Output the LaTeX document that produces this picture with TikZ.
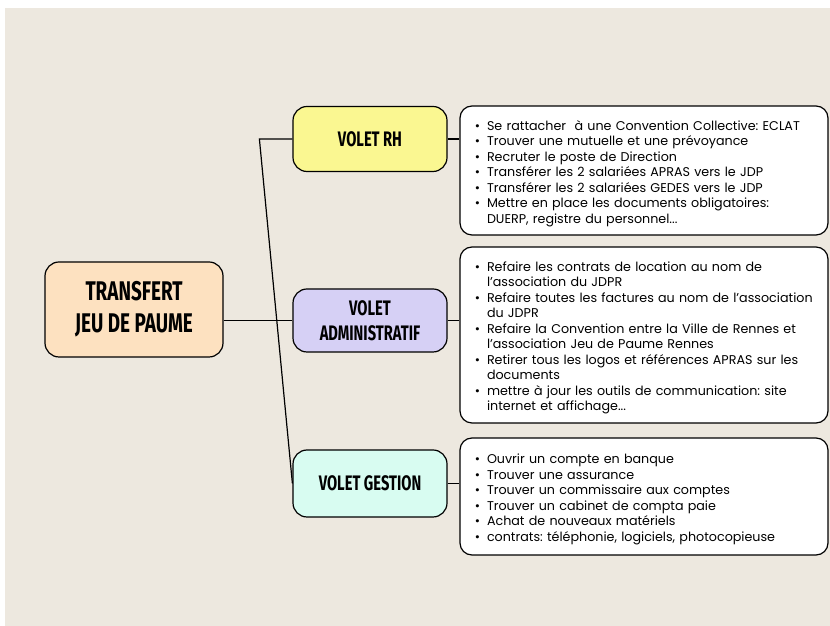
\documentclass[tikz,border=0pt]{standalone}
\usepackage{fontspec}
\setmainfont{Poppins}
\newfontfamily\headfont{Fira Sans}[FakeStretch=0.7]
\usepackage{enumitem}
\setlist[itemize]{label=\textbullet, leftmargin=14pt, labelsep=7pt, itemsep=0pt, topsep=0pt, parsep=0pt, partopsep=0pt}
\usetikzlibrary{positioning}
\frenchspacing

\definecolor{paper}{RGB}{237,232,223}
\definecolor{peach}{RGB}{253,225,192}
\definecolor{lemon}{RGB}{250,247,145}
\definecolor{lilac}{RGB}{214,208,245}
\definecolor{mint}{RGB}{216,252,241}

\begin{document}
\begin{tikzpicture}[x=1pt, y=1pt,
    base/.style = {rectangle, rounded corners=14pt, draw=black,
line width=1.2pt, align=center},
    topic/.style = {base, fill=peach, minimum width=178pt, minimum height=95pt,
font=\headfont\bfseries\fontsize{27}{32}\selectfont},
    branch/.style = {base, minimum width=154pt, minimum height=65pt,
font=\headfont\bfseries\fontsize{21}{25}\selectfont},
    detail/.style = {rectangle, rounded corners=12pt, draw=black, line width=1.2pt,
fill=white, minimum width=368pt, text width=342pt, inner xsep=13pt,
font=\fontsize{12.7}{15.5}\selectfont},
    link/.style = {line width=1.2pt}
]

  \useasboundingbox (0,0) rectangle (830,626);
  \fill[white] (0,0) rectangle (830,626);
  \fill[paper] (5,0) rectangle (830,618);

  \node (transfert) [topic] at (134,316.5) {TRANSFERT\\JEU DE PAUME};
  \node (rh)        [branch, fill=lemon] at (370,487) {VOLET RH};
  \node (admin)     [branch, fill=lilac, minimum height=63pt] at (370,305.5) {VOLET\\ADMINISTRATIF};
  \node (gestion)   [branch, fill=mint, minimum height=67pt] at (370,142.5) {VOLET GESTION};

  \node (rhtasks) [detail, minimum height=129pt] at (644,455.5) {%
    \begin{itemize}
      \item Se rattacher\ \ à une Convention Collective: ECLAT
      \item Trouver une mutuelle et une prévoyance
      \item Recruter le poste de Direction
      \item Transférer les 2 salariées APRAS vers le JDP
      \item Transférer les 2 salariées GEDES vers le JDP
      \item Mettre en place les documents obligatoires:\newline DUERP, registre du personnel...
    \end{itemize}};
  \node (admintasks) [detail, minimum height=176pt] at (644,291) {%
    \begin{itemize}
      \item Refaire les contrats de location au nom de\newline l’association du JDPR
      \item Refaire toutes les factures au nom de l’association\newline du JDPR
      \item Refaire la Convention entre la Ville de Rennes et\newline l’association Jeu de Paume Rennes
      \item Retirer tous les logos et références APRAS sur les\newline documents
      \item mettre à jour les outils de communication: site\newline internet et affichage...
    \end{itemize}};
  \node (gestiontasks) [detail, minimum height=117pt] at (644,129.5) {%
    \begin{itemize}
      \item Ouvrir un compte en banque
      \item Trouver une assurance
      \item Trouver un commissaire aux comptes
      \item Trouver un cabinet de compta paie
      \item Achat de nouveaux matériels
      \item contrats: téléphonie, logiciels, photocopieuse
    \end{itemize}};

  \draw[link] (transfert.east |- admin.west) -- (admin.west);
  \draw[link] (rh.west) -- ++(-33,0) -- (gestion.west);

  \draw[link] (rh.east) -- (rh.east -| rhtasks.west);
  \draw[link] (admin.east) -- (admin.east -| admintasks.west);
  \draw[link] (gestion.east) -- (gestion.east -| gestiontasks.west);

\end{tikzpicture}
\end{document}
